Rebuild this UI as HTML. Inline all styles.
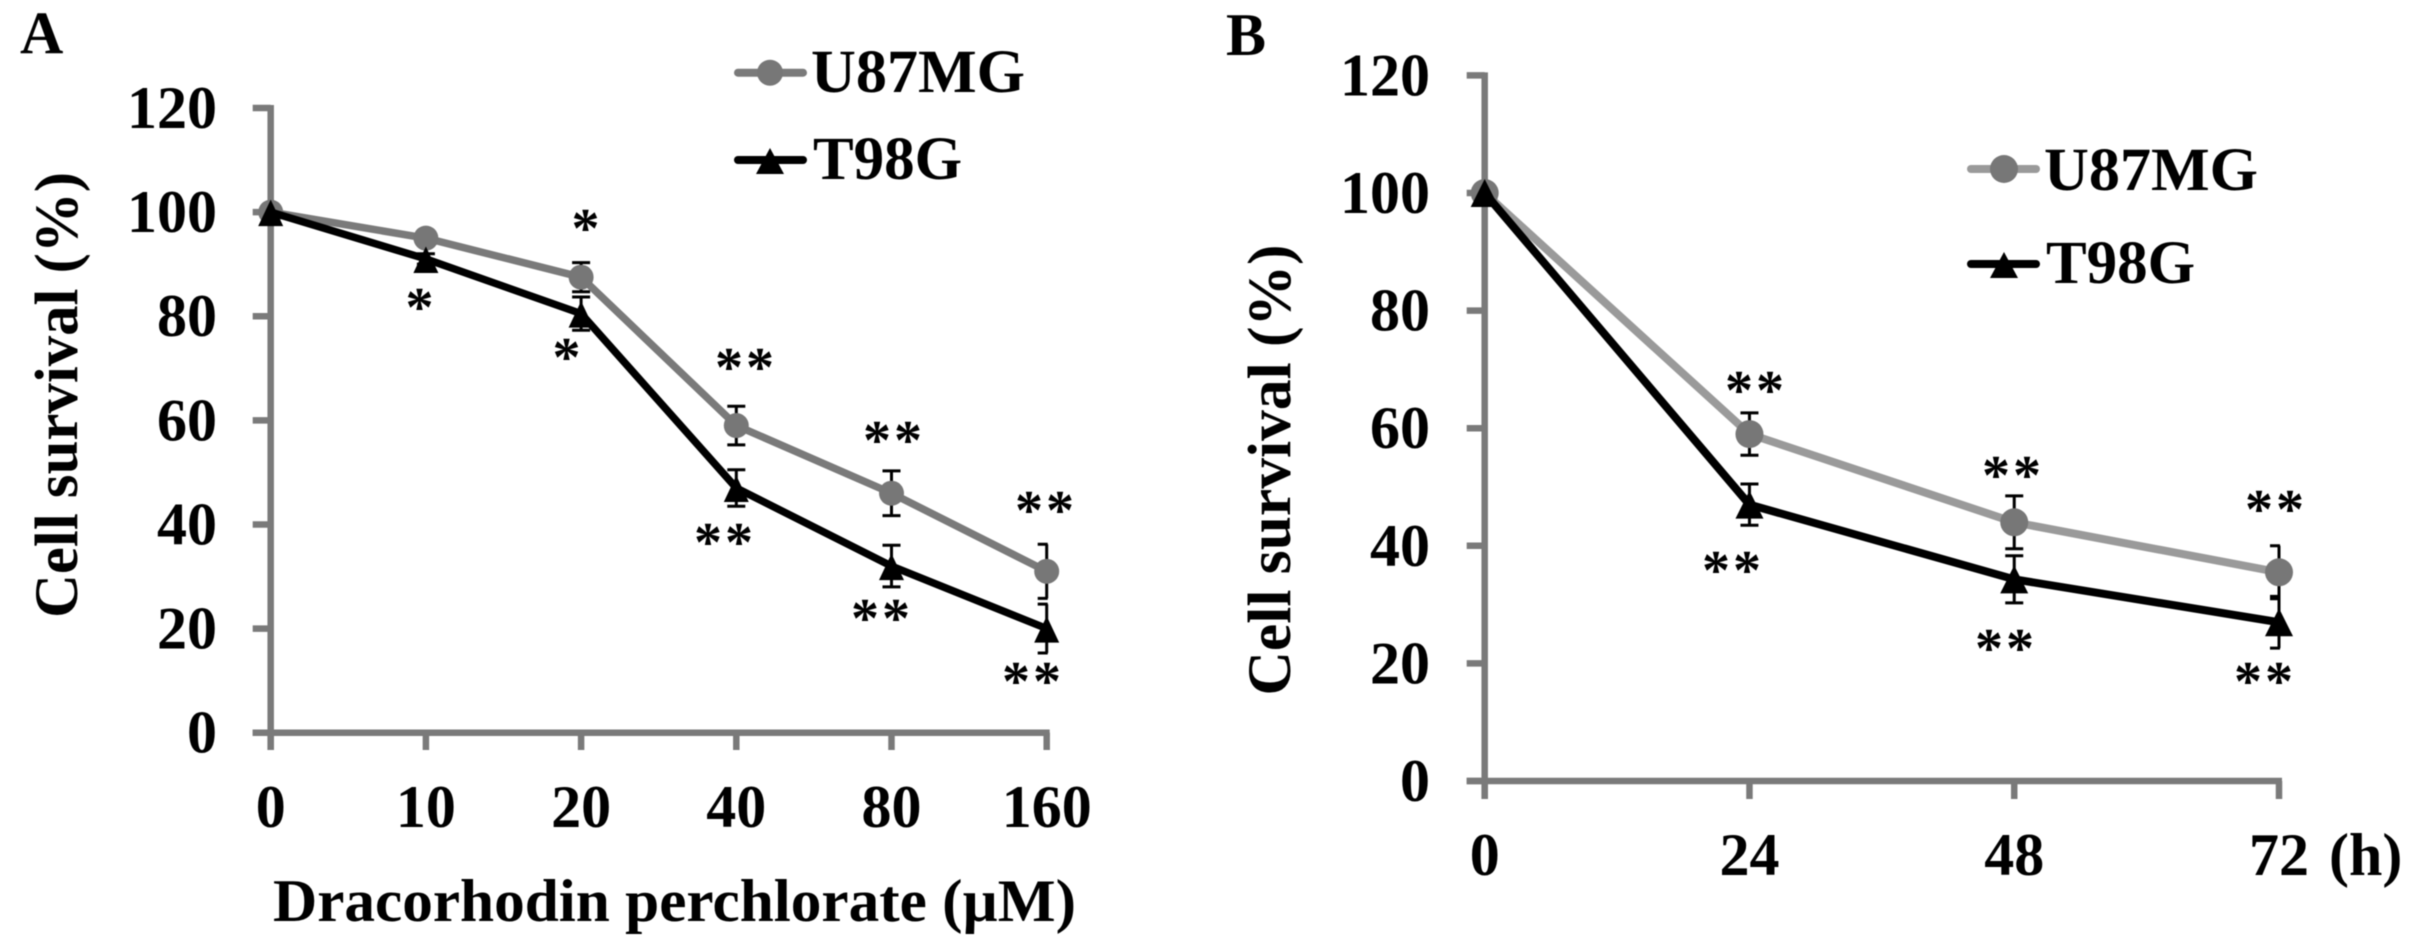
<!DOCTYPE html>
<html lang="en">
<head>
<meta charset="utf-8">
<title>Cell survival charts</title>
<style>
html,body{margin:0;padding:0;background:#fff;width:2423px;height:946px;overflow:hidden}
svg{display:block;filter:blur(0.6px)}
text{font-family:"Liberation Serif",serif;font-weight:bold;fill:#000}
.stars{font-size:56px;letter-spacing:3px;text-anchor:middle}
</style>
</head>
<body>
<svg id="figure" width="2423" height="946" viewBox="0 0 2423 946" xmlns="http://www.w3.org/2000/svg">
  <rect x="0" y="0" width="2423" height="946" fill="#fff"/>
  <g id="panelA"></g>
  <g id="panelB"></g>

  <text x="20" y="53" font-size="60">A</text>
  <text x="1226" y="55" font-size="60">B</text>

  <text transform="translate(77,395) rotate(-90)" text-anchor="middle" font-size="61" textLength="446" lengthAdjust="spacingAndGlyphs">Cell survival (%)</text>
  <text transform="translate(1290,470) rotate(-90)" text-anchor="middle" font-size="61" textLength="451" lengthAdjust="spacingAndGlyphs">Cell survival (%)</text>
  <text x="273" y="921" font-size="60" textLength="803" lengthAdjust="spacingAndGlyphs">Dracorhodin perchlorate (µM)</text>
  <text x="2329" y="875" font-size="60">(h)</text>

  <g>
    <g>
      <line x1="738" y1="72.7" x2="803" y2="72.7" stroke="#7a7a7a" stroke-width="8" stroke-linecap="round"/>
      <circle cx="770" cy="72.7" r="13" fill="#777"/>
      <text x="811" y="92" font-size="61" textLength="214" lengthAdjust="spacingAndGlyphs">U87MG</text>
    </g>
    <g>
      <line x1="738" y1="160" x2="803" y2="160" stroke="#000" stroke-width="8" stroke-linecap="round"/>
      <polygon points="770,148 756,174 784,174" fill="#000"/>
      <text x="813" y="179" font-size="61">T98G</text>
    </g>
  </g>
  <g>
    <g>
      <line x1="1971" y1="169" x2="2036" y2="169" stroke="#9a9a9a" stroke-width="8" stroke-linecap="round"/>
      <circle cx="2004" cy="169" r="14" fill="#777"/>
      <text x="2044" y="190" font-size="61" textLength="214" lengthAdjust="spacingAndGlyphs">U87MG</text>
    </g>
    <g>
      <line x1="1971" y1="264" x2="2036" y2="264" stroke="#000" stroke-width="8" stroke-linecap="round"/>
      <polygon points="2004,252 1990,278 2018,278" fill="#000"/>
      <text x="2046" y="283" font-size="61">T98G</text>
    </g>
  </g>

  <g>
    <text class="stars" x="587" y="247">*</text>
    <text class="stars" x="421" y="326">*</text>
    <text class="stars" x="568" y="376">*</text>
    <text class="stars" x="746" y="386">**</text>
    <text class="stars" x="725" y="561">**</text>
    <text class="stars" x="894" y="459">**</text>
    <text class="stars" x="882" y="637">**</text>
    <text class="stars" x="1046" y="529">**</text>
    <text class="stars" x="1033" y="700">**</text>
  </g>
  <g>
    <text class="stars" x="1756" y="409">**</text>
    <text class="stars" x="1733" y="589">**</text>
    <text class="stars" x="2013" y="494">**</text>
    <text class="stars" x="2006" y="667">**</text>
    <text class="stars" x="2276" y="528">**</text>
    <text class="stars" x="2265" y="700">**</text>
  </g>
</svg>
<script>
var yTickValues = [0, 20, 40, 60, 80, 100, 120];
var doseCategories = ['0', '10', '20', '40', '80', '160'];
var doseU87 = [100, 95, 87.5, 59, 46, 31];
var doseU87Err = [0.5, 1, 2.8, 3.7, 4.3, 5.2];
var doseT98 = [100, 91, 80.5, 47, 32, 20];
var doseT98Err = [0.5, 1, 3.2, 3.5, 4, 4.7];
var timeCategories = ['0', '24', '48', '72'];
var timeU87 = [100, 59, 44, 35.5];
var timeU87Err = [0.5, 3.6, 4.5, 4.5];
var timeT98 = [100, 47, 34.3, 27];
var timeT98Err = [0.5, 3.5, 4, 4.4];

var NS = 'http://www.w3.org/2000/svg';
function mk(parent, tag, attrs) {
  var el = document.createElementNS(NS, tag);
  for (var k in attrs) { el.setAttribute(k, attrs[k]); }
  parent.appendChild(el);
  return el;
}
function drawPanel(parent, frame, categories, seriesList) {
  function xScale(i) { return frame.left + (frame.right - frame.left) * i / (categories.length - 1); }
  function yScale(v) { return frame.bottom - (frame.bottom - frame.top) * v / 120; }

  var axisColor = '#7a7a7a';
  var yAxis = mk(parent, 'line', {x1: frame.left, y1: frame.top - 3, x2: frame.left, y2: frame.tickBottom, stroke: axisColor, 'stroke-width': 6.5});
  
  
  var xAxis = mk(parent, 'line', {x1: frame.left - 18, y1: frame.bottom, x2: frame.right + 3, y2: frame.bottom, stroke: axisColor, 'stroke-width': 6.5});
  
  

  yTickValues.forEach(function (v) {
    var tick = mk(parent, 'line', {x1: frame.left - 18, y1: yScale(v), x2: frame.left, y2: yScale(v), stroke: axisColor, 'stroke-width': 6.5});
    
    
    var label = mk(parent, 'text', {x: frame.yLabelRight, y: yScale(v) + 20, 'text-anchor': 'end', 'font-size': 60});
    label.textContent = String(v);
    
    
  });
  categories.forEach(function (c, i) {
    var tick = mk(parent, 'line', {x1: xScale(i), y1: frame.bottom, x2: xScale(i), y2: frame.tickBottom, stroke: axisColor, 'stroke-width': 6.5});
    
    
    var label = mk(parent, 'text', {x: xScale(i), y: frame.xLabelBase, 'text-anchor': 'middle', 'font-size': 60});
    label.textContent = c;
    
    
  });

  seriesList.forEach(function (s) {
    var g = mk(parent, 'g', {});
    
    
    s.values.forEach(function (v, i) {
      if (i === 0) { return; }
      var x = xScale(i);
      var hi = yScale(v + s.errors[i]);
      var lo = yScale(v - s.errors[i]);
      var capRight = Math.min(x + 9, frame.right + 1);
      var bar = mk(g, 'path', {d: 'M' + x + ' ' + hi + 'V' + lo + 'M' + (x - 9) + ' ' + hi + 'H' + capRight + 'M' + (x - 9) + ' ' + lo + 'H' + capRight, fill: 'none', stroke: '#000', 'stroke-width': 3});
      
      
    });
    var pts = s.values.map(function (v, i) { return xScale(i) + ',' + yScale(v); }).join(' ');
    var line = mk(g, 'polyline', {points: pts, fill: 'none', stroke: s.lineColor, 'stroke-width': frame.lineWidth, 'stroke-linejoin': 'round'});
    
    
    s.values.forEach(function (v, i) {
      var x = xScale(i), y = yScale(v), m;
      if (s.marker === 'circle') {
        m = mk(g, 'circle', {cx: x, cy: y, r: frame.markerSize, fill: s.markerColor});
      } else {
        m = mk(g, 'polygon', {points: x + ',' + (y - frame.markerSize) + ' ' + (x - frame.markerSize) + ',' + (y + 14) + ' ' + (x + frame.markerSize) + ',' + (y + 14), fill: s.markerColor});
      }
      
      
    });
  });
}

drawPanel(document.getElementById('panelA'),
  {left: 270.7, right: 1046.7, top: 108, bottom: 732.7, tickBottom: 750, yLabelRight: 217, xLabelBase: 827, lineWidth: 7.5, markerSize: 12.5},
  doseCategories,
  [
    {name: 'u87mg', values: doseU87, errors: doseU87Err, lineColor: '#7a7a7a', markerColor: '#777', marker: 'circle'},
    {name: 't98g', values: doseT98, errors: doseT98Err, lineColor: '#000', markerColor: '#000', marker: 'triangle'}
  ]);
drawPanel(document.getElementById('panelB'),
  {left: 1484.7, right: 2279, top: 75.4, bottom: 781, tickBottom: 799, yLabelRight: 1430, xLabelBase: 875, lineWidth: 8, markerSize: 14},
  timeCategories,
  [
    {name: 'u87mg', values: timeU87, errors: timeU87Err, lineColor: '#9a9a9a', markerColor: '#777', marker: 'circle'},
    {name: 't98g', values: timeT98, errors: timeT98Err, lineColor: '#000', markerColor: '#000', marker: 'triangle'}
  ]);
</script>
</body>
</html>
